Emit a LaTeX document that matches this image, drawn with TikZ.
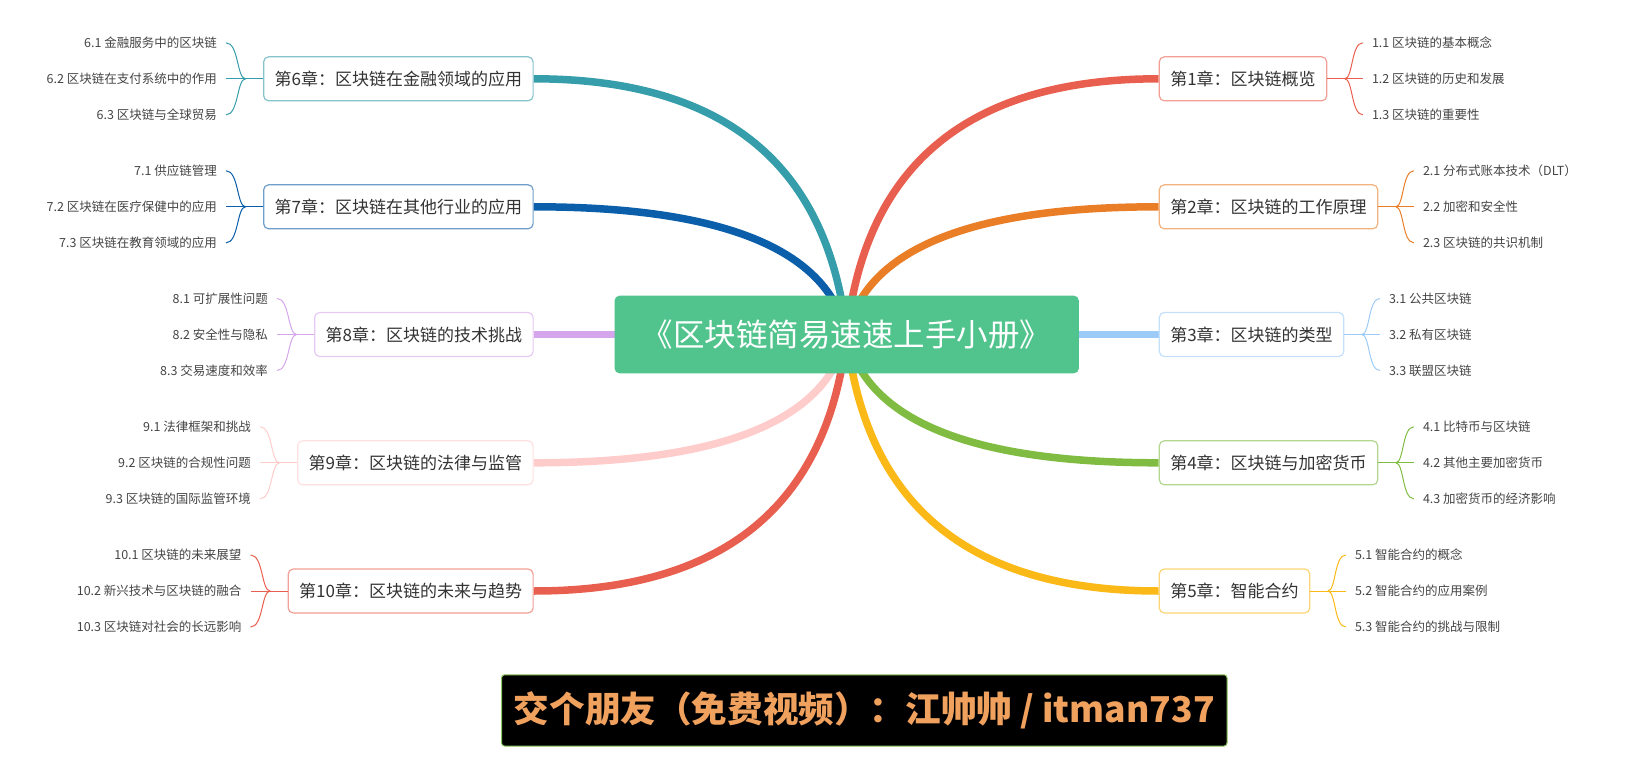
\documentclass[tikz,border=0pt]{standalone}
\usepackage{fontspec}
\setmainfont{Noto Sans CJK SC}
\usetikzlibrary{calc,backgrounds}
\definecolor{cA}{HTML}{E95F4F}
\definecolor{cB}{HTML}{E97E27}
\definecolor{cC}{HTML}{9DCBF7}
\definecolor{cD}{HTML}{80BC42}
\definecolor{cE}{HTML}{FBB917}
\definecolor{cF}{HTML}{369DAA}
\definecolor{cG}{HTML}{0B5EAA}
\definecolor{cH}{HTML}{D6A6EC}
\definecolor{cI}{HTML}{FFCCCC}
\definecolor{rootgreen}{HTML}{50C48C}
\definecolor{textdark}{HTML}{333333}
\definecolor{textsub}{HTML}{444444}
\definecolor{footorange}{HTML}{F0A15E}
\definecolor{footborder}{HTML}{8DC75B}
\tikzset{
  branchline/.style={draw=#1, line width=7.5pt},
  subline/.style={draw=#1, line width=1pt},
  chapbox/.style={draw=#1!60, fill=white, line width=1.2pt, rounded corners=5pt,
    minimum height=44pt, inner xsep=11pt, inner ysep=0pt,
    font=\fontsize{17}{20}\selectfont, text=textdark},
  subtopic/.style={inner xsep=9pt, inner ysep=2pt,
    font=\fontsize{12.5}{15}\selectfont, text=textsub},
  rootbox/.style={fill=rootgreen, rounded corners=5pt, minimum width=464.3pt,
    minimum height=77.7pt, text=white, font=\fontsize{31.5}{36}\selectfont},
  footbox/.style={fill=black, draw=footborder, line width=1pt, rounded corners=3pt,
    minimum width=725.4pt, minimum height=71.3pt, text=footorange,
    font=\bfseries\fontsize{35.6}{40}\selectfont}
}
% quadratic-like main branch from root centre to chapter anchor
\newcommand\mainbranch[2]{%
  \begin{pgfonlayer}{background}
  \draw[branchline=#1] let \p1=(root.center), \p2=(#2) in (\p1) .. controls ({\x1+0.06*(\x2-\x1)},{\y1+0.6667*(\y2-\y1)}) and ({\x2-0.6067*(\x2-\x1)},\y2) .. (\p2);
  \end{pgfonlayer}
}
% right-side group: #1 colour, #2 name, #3 y, #4 title, #5-#7 subtopics
\newcommand\myrightgrp[7]{%
  \node[chapbox=#1, anchor=west] (#2) at (1158.7,#3) {#4};
  \node[subtopic, anchor=west] (#2a) at ($(#2.east)+(35.5,-36)$) {#5};
  \node[subtopic, anchor=west] (#2b) at ($(#2.east)+(35.5,0)$) {#6};
  \node[subtopic, anchor=west] (#2c) at ($(#2.east)+(35.5,36)$) {#7};
  \coordinate (#2j) at ($(#2.east)+(17.5,0)$);
  \draw[subline=#1] (#2.east) -- (#2b.west);
  \draw[subline=#1] let \p1=(#2j), \p2=(#2a.west) in (\p1) .. controls ({\x1+0.45*(\x2-\x1)},\y1) and ({\x1+0.35*(\x2-\x1)},\y2) .. (\p2);
  \draw[subline=#1] let \p1=(#2j), \p2=(#2c.west) in (\p1) .. controls ({\x1+0.45*(\x2-\x1)},\y1) and ({\x1+0.35*(\x2-\x1)},\y2) .. (\p2);
  \mainbranch{#1}{#2.west}
}
\newcommand\myleftgrp[7]{%
  \node[chapbox=#1, anchor=east] (#2) at (533.7,#3) {#4};
  \node[subtopic, anchor=east] (#2a) at ($(#2.west)+(-37,-36)$) {#5};
  \node[subtopic, anchor=east] (#2b) at ($(#2.west)+(-37,0)$) {#6};
  \node[subtopic, anchor=east] (#2c) at ($(#2.west)+(-37,36)$) {#7};
  \coordinate (#2j) at ($(#2.west)+(-17.5,0)$);
  \draw[subline=#1] (#2.west) -- (#2b.east);
  \draw[subline=#1] let \p1=(#2j), \p2=(#2a.east) in (\p1) .. controls ({\x1+0.45*(\x2-\x1)},\y1) and ({\x1+0.35*(\x2-\x1)},\y2) .. (\p2);
  \draw[subline=#1] let \p1=(#2j), \p2=(#2c.east) in (\p1) .. controls ({\x1+0.45*(\x2-\x1)},\y1) and ({\x1+0.35*(\x2-\x1)},\y2) .. (\p2);
  \mainbranch{#1}{#2.east}
}
\begin{document}
\begin{tikzpicture}[x=1pt,y=-1pt]
\useasboundingbox (0,0) rectangle (1625,778);
\node[rootbox] (root) at (846.7,334.5) {《区块链简易速速上手小册》};

\myrightgrp{cA}{chA}{78.8}{第1章：区块链概览}{1.1 区块链的基本概念}{1.2 区块链的历史和发展}{1.3 区块链的重要性}
\myrightgrp{cB}{chB}{206.8}{第2章：区块链的工作原理}{2.1 分布式账本技术（DLT）}{2.2 加密和安全性}{2.3 区块链的共识机制}
\myrightgrp{cC}{chC}{334.5}{第3章：区块链的类型}{3.1 公共区块链}{3.2 私有区块链}{3.3 联盟区块链}
\myrightgrp{cD}{chD}{462.8}{第4章：区块链与加密货币}{4.1 比特币与区块链}{4.2 其他主要加密货币}{4.3 加密货币的经济影响}
\myrightgrp{cE}{chE}{591}{第5章：智能合约}{5.1 智能合约的概念}{5.2 智能合约的应用案例}{5.3 智能合约的挑战与限制}

\myleftgrp{cF}{chF}{78.8}{第6章：区块链在金融领域的应用}{6.1 金融服务中的区块链}{6.2 区块链在支付系统中的作用}{6.3 区块链与全球贸易}
\myleftgrp{cG}{chG}{206.8}{第7章：区块链在其他行业的应用}{7.1 供应链管理}{7.2 区块链在医疗保健中的应用}{7.3 区块链在教育领域的应用}
\myleftgrp{cH}{chH}{334.5}{第8章：区块链的技术挑战}{8.1 可扩展性问题}{8.2 安全性与隐私}{8.3 交易速度和效率}
\myleftgrp{cI}{chI}{462.8}{第9章：区块链的法律与监管}{9.1 法律框架和挑战}{9.2 区块链的合规性问题}{9.3 区块链的国际监管环境}
\myleftgrp{cA}{chJ}{591}{第10章：区块链的未来与趋势}{10.1 区块链的未来展望}{10.2 新兴技术与区块链的融合}{10.3 区块链对社会的长远影响}

\node[footbox] (foot) at (864.3,710.4) {交个朋友（免费视频）：江帅帅 / itman737};
\end{tikzpicture}
\end{document}
